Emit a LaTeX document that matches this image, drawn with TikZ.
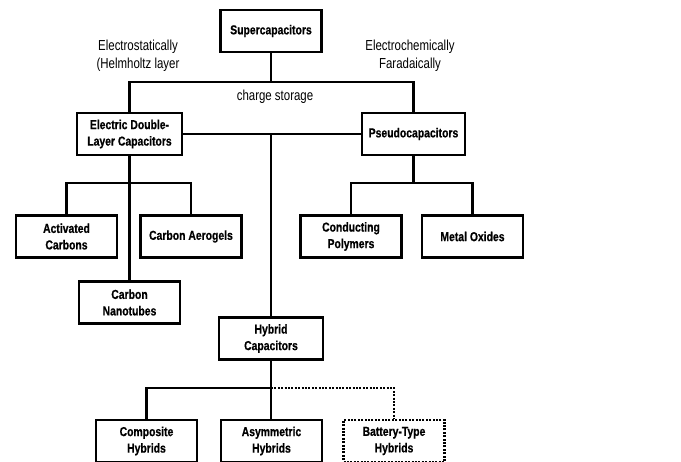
\documentclass[tikz,border=0pt]{standalone}
\usepackage{fontspec}
\setmainfont{Liberation Sans}
\newfontfamily\boxfont[FakeStretch=0.80, FakeBold=0.6]{Liberation Sans Bold}
\newfontfamily\notefont[FakeStretch=0.79]{Liberation Sans}
\usetikzlibrary{positioning, calc}

\begin{document}
\begin{tikzpicture}[x=1pt, y=-1pt, node distance=1.4cm]
  % Styles
  \tikzset{
    box/.style={draw=black, line width=2.5pt, fill=white, align=center, inner sep=0pt,
      minimum width=101pt, minimum height=42pt, font=\boxfont\fontsize{13}{16.5}\selectfont},
    dotbox/.style={box, dash pattern=on 2pt off 1.4pt},
    note/.style={align=center, inner sep=0pt, font=\notefont\fontsize{14.5}{17.5}\selectfont},
    link/.style={line width=2.5pt},
    dotlink/.style={link, dash pattern=on 2pt off 1.4pt}
  }
  \useasboundingbox (0,0) rectangle (681,462);

  % Nodes
  \node[box] (super) at (271,31) {Supercapacitors};
  \node[box, minimum width=105pt] (edlc) at (129.5,134) {Electric Double-\\Layer Capacitors};
  \node[box, minimum width=103pt] (pseudo) at (413.5,134) {Pseudocapacitors};

  \node[note] (estat) at (138,56) {Electrostatically\\(Helmholtz layer};
  \node[note] (echem) at (410,56) {Electrochemically\\Faradaically};
  \node[note] (charge) at (275,97) {charge storage};

  \node[box] (act) at (66.5,236.5) {Activated\\Carbons};
  \node[box] (aero) at (191,236.5) {Carbon Aerogels};
  \node[box] (cnt) at (129.5,302.5) {Carbon\\Nanotubes};

  \node[box] (cond) at (351,236.5) {Conducting\\Polymers};
  \node[box] (metal) at (472.5,236.5) {Metal Oxides};

  \node[box, minimum width=104pt] (hybrid) at (271,338.5) {Hybrid\\Capacitors};
  \node[box] (comp) at (146.5,441) {Composite\\Hybrids};
  \node[box] (asym) at (271.5,441) {Asymmetric\\Hybrids};
  \node[dotbox] (batt) at (394,441) {Battery-Type\\Hybrids};

  % Junctions
  \coordinate (topjoin) at (271,82);
  \coordinate (edlcjoin) at (129.5,183);
  \coordinate (pseudojoin) at (413.5,183);
  \coordinate (hybjoin) at (271,388);

  % Lines
  \draw[link] (super) -- (topjoin);
  \draw[link] (edlc.north) |- (topjoin) -| (pseudo.north);
  \draw[link] (edlc.east) -- (pseudo.west);
  \draw[link] (hybrid.north) -- (hybrid.north |- edlc.east);

  \draw[link] (edlc.south) -- (cnt.north);
  \draw[link] (act.north) |- (edlcjoin) -| (aero.north);

  \draw[link] (pseudo.south) -- (pseudojoin);
  \draw[link] (cond.north) |- (pseudojoin) -| (metal.north);

  \draw[link] (hybrid.south) -- (asym.north -| hybrid.south);
  \draw[link] (comp.north) |- (hybjoin);
  \draw[dotlink] (hybjoin) -| (batt.north);

\end{tikzpicture}
\end{document}
